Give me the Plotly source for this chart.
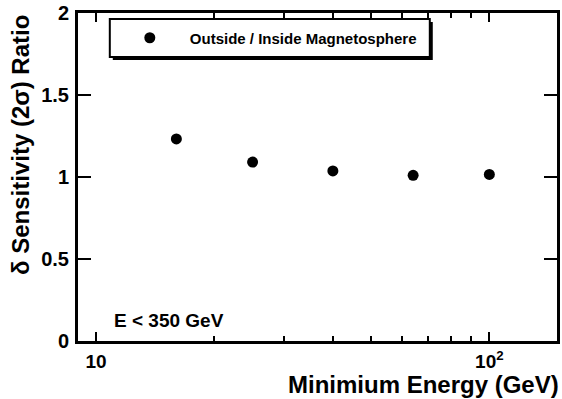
import plotly.graph_objects as go

# Sensitivity ratio vs. minimum energy threshold
min_energy = [16, 25, 40, 64, 100]
ratio = [1.232, 1.091, 1.037, 1.010, 1.016]
series_name = "Outside / Inside Magnetosphere"

y_ticks = [0, 0.5, 1, 1.5, 2]
y_ticktext = ["0", "0.5", "1", "1.5", "2"]
x_ticks = [10, 100]
x_ticktext = ["10", "10<sup>2</sup>"]
x_minor = [20, 30, 40, 50, 60, 70, 80, 90]

FONT = "Liberation Sans"
L, T, W, H = 78, 13, 482, 328  # plot area in pixels


def px_x(p):
    return (p - L) / W


def px_y(p):
    return (T + H - p) / H


fig = go.Figure()
fig.add_trace(go.Scatter(
    x=min_energy, y=ratio, mode="markers",
    marker=dict(color="black", size=11, symbol="circle"),
    name=series_name, showlegend=True,
))

fig.update_layout(
    width=562, height=399,
    margin=dict(l=L, r=562 - L - W, t=T, b=399 - T - H),
    paper_bgcolor="white", plot_bgcolor="white",
    font=dict(family=FONT, color="black", size=18, weight="bold"),
    showlegend=True,
    legend=dict(
        x=px_x(110), y=px_y(38), xanchor="left", yanchor="middle",
        bgcolor="rgba(0,0,0,0)", borderwidth=0, itemwidth=70,
        font=dict(family=FONT, size=15, weight="bold"),
    ),
    xaxis=dict(
        type="log", range=[0.954, 2.172],
        tickmode="array", tickvals=x_ticks, ticktext=x_ticktext,
        ticks="inside", ticklen=9, tickwidth=2, tickcolor="black",
        minor=dict(tickmode="array", tickvals=x_minor, ticks="inside",
                   ticklen=5, tickwidth=2, tickcolor="black", showgrid=False),
        showline=True, linecolor="black", linewidth=3, mirror="ticks",
        showgrid=False, zeroline=False, ticklabelstandoff=1,
        tickfont=dict(family=FONT, size=19, weight="bold"),
    ),
    yaxis=dict(
        range=[0, 2], tickmode="array", tickvals=y_ticks, ticktext=y_ticktext,
        ticks="inside", ticklen=13, tickwidth=2, tickcolor="black",
        showline=True, linecolor="black", linewidth=3, mirror="ticks",
        showgrid=False, zeroline=False, ticklabelstandoff=2,
        tickfont=dict(family=FONT, size=20, weight="bold"),
    ),
)

# Legend frame with drop shadow
fig.add_shape(type="rect", xref="paper", yref="paper",
              x0=px_x(113), x1=px_x(435), y0=px_y(60), y1=px_y(22),
              fillcolor="black", line=dict(color="black", width=0), layer="above")
fig.add_shape(type="rect", xref="paper", yref="paper",
              x0=px_x(110), x1=px_x(432), y0=px_y(57), y1=px_y(19),
              fillcolor="white", line=dict(color="black", width=2), layer="above")

fig.add_annotation(xref="paper", yref="paper",
                   x=px_x(112), y=px_y(320), xanchor="left", yanchor="middle",
                   text="E < 350 GeV", showarrow=False,
                   font=dict(family=FONT, size=19, weight="bold"))

# Axis titles
fig.add_annotation(xref="paper", yref="paper", x=1, y=0, xanchor="right",
                   yanchor="middle", yshift=-43, xshift=4,
                   text="Minimium Energy (GeV)", showarrow=False,
                   font=dict(family=FONT, size=24, weight="bold"))
fig.add_annotation(xref="paper", yref="paper", x=0, y=px_y(145),
                   xanchor="center", yanchor="middle", xshift=-(L - 20),
                   textangle=-90,
                   text="\u03B4 Sensitivity (2\u03C3) Ratio", showarrow=False,
                   font=dict(family=FONT, size=24, weight="bold"))

fig.write_html("out.html")
